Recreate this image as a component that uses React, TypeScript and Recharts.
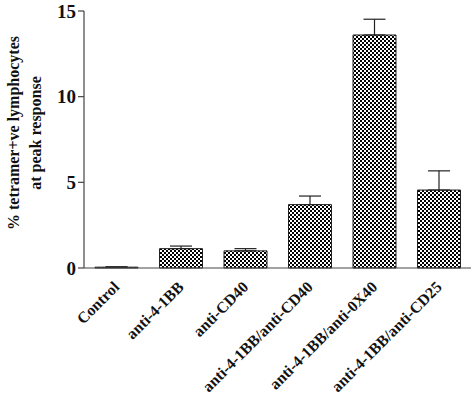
import { BarChart, Bar, XAxis, YAxis, ErrorBar, Label } from 'recharts'

const categories = [
  'Control',
  'anti-4-1BB',
  'anti-CD40',
  'anti-4-1BB/anti-CD40',
  'anti-4-1BB/anti-0X40',
  'anti-4-1BB/anti-CD25',
]
const values = [0.05, 1.13, 1.0, 3.7, 13.6, 4.55]
const upperErrors = [0.02, 0.15, 0.13, 0.5, 0.92, 1.12]
const yTicks = [0, 5, 10, 15]

const data = categories.map((name, i) => ({
  name,
  value: values[i],
  err: [0, upperErrors[i]],
}))

const FONT = '"Liberation Serif", "Times New Roman", serif'

function XTick({ x, y, payload }: any) {
  return (
    <g transform={`translate(${x},${y})`}>
      <text
        transform="translate(4,12) rotate(-45)"
        textAnchor="end"
        fontFamily={FONT}
        fontWeight="bold"
        fontSize={15.8}
        fill="#111"
      >
        {payload.value}
      </text>
    </g>
  )
}

function YLabel() {
  return (
    <g fontFamily={FONT} fontWeight="bold" fontSize={16} fill="#111">
      <text transform="translate(19,133) rotate(-90)" textAnchor="middle">
        % tetramer+ve lymphocytes
      </text>
      <text transform="translate(41,133) rotate(-90)" textAnchor="middle">
        at peak response
      </text>
    </g>
  )
}

export default function App() {
  return (
    <div style={{ position: 'absolute', left: 0, top: 0, width: 472, height: 399, background: '#fff' }}>
      <BarChart
        width={472}
        height={399}
        data={data}
        margin={{ top: 11, right: 1, left: 0, bottom: 0 }}
        barSize={43}
      >
        <defs>
          <pattern id="checker" width="4" height="4" patternUnits="userSpaceOnUse">
            <rect width="4" height="4" fill="#fff" />
            <rect width="2" height="2" fill="#000" />
            <rect x="2" y="2" width="2" height="2" fill="#000" />
          </pattern>
        </defs>
        <XAxis
          dataKey="name"
          height={131}
          interval={0}
          tickLine={false}
          axisLine={{ stroke: '#444', strokeWidth: 1.2 }}
          tick={<XTick />}
        />
        <YAxis
          width={84}
          domain={[0, 15]}
          ticks={yTicks}
          interval={0}
          tickSize={6}
          tickMargin={2}
          axisLine={{ stroke: '#444', strokeWidth: 1.2 }}
          tickLine={{ stroke: '#444', strokeWidth: 1.2 }}
          tick={{ fontFamily: FONT, fontWeight: 'bold', fontSize: 19, fill: '#111' }}
        >
          <Label content={<YLabel />} />
        </YAxis>
        <Bar dataKey="value" fill="url(#checker)" stroke="#222" strokeWidth={1} isAnimationActive={false}>
          <ErrorBar dataKey="err" width={11} stroke="#222" strokeWidth={1.2} direction="y" />
        </Bar>
      </BarChart>
    </div>
  )
}
